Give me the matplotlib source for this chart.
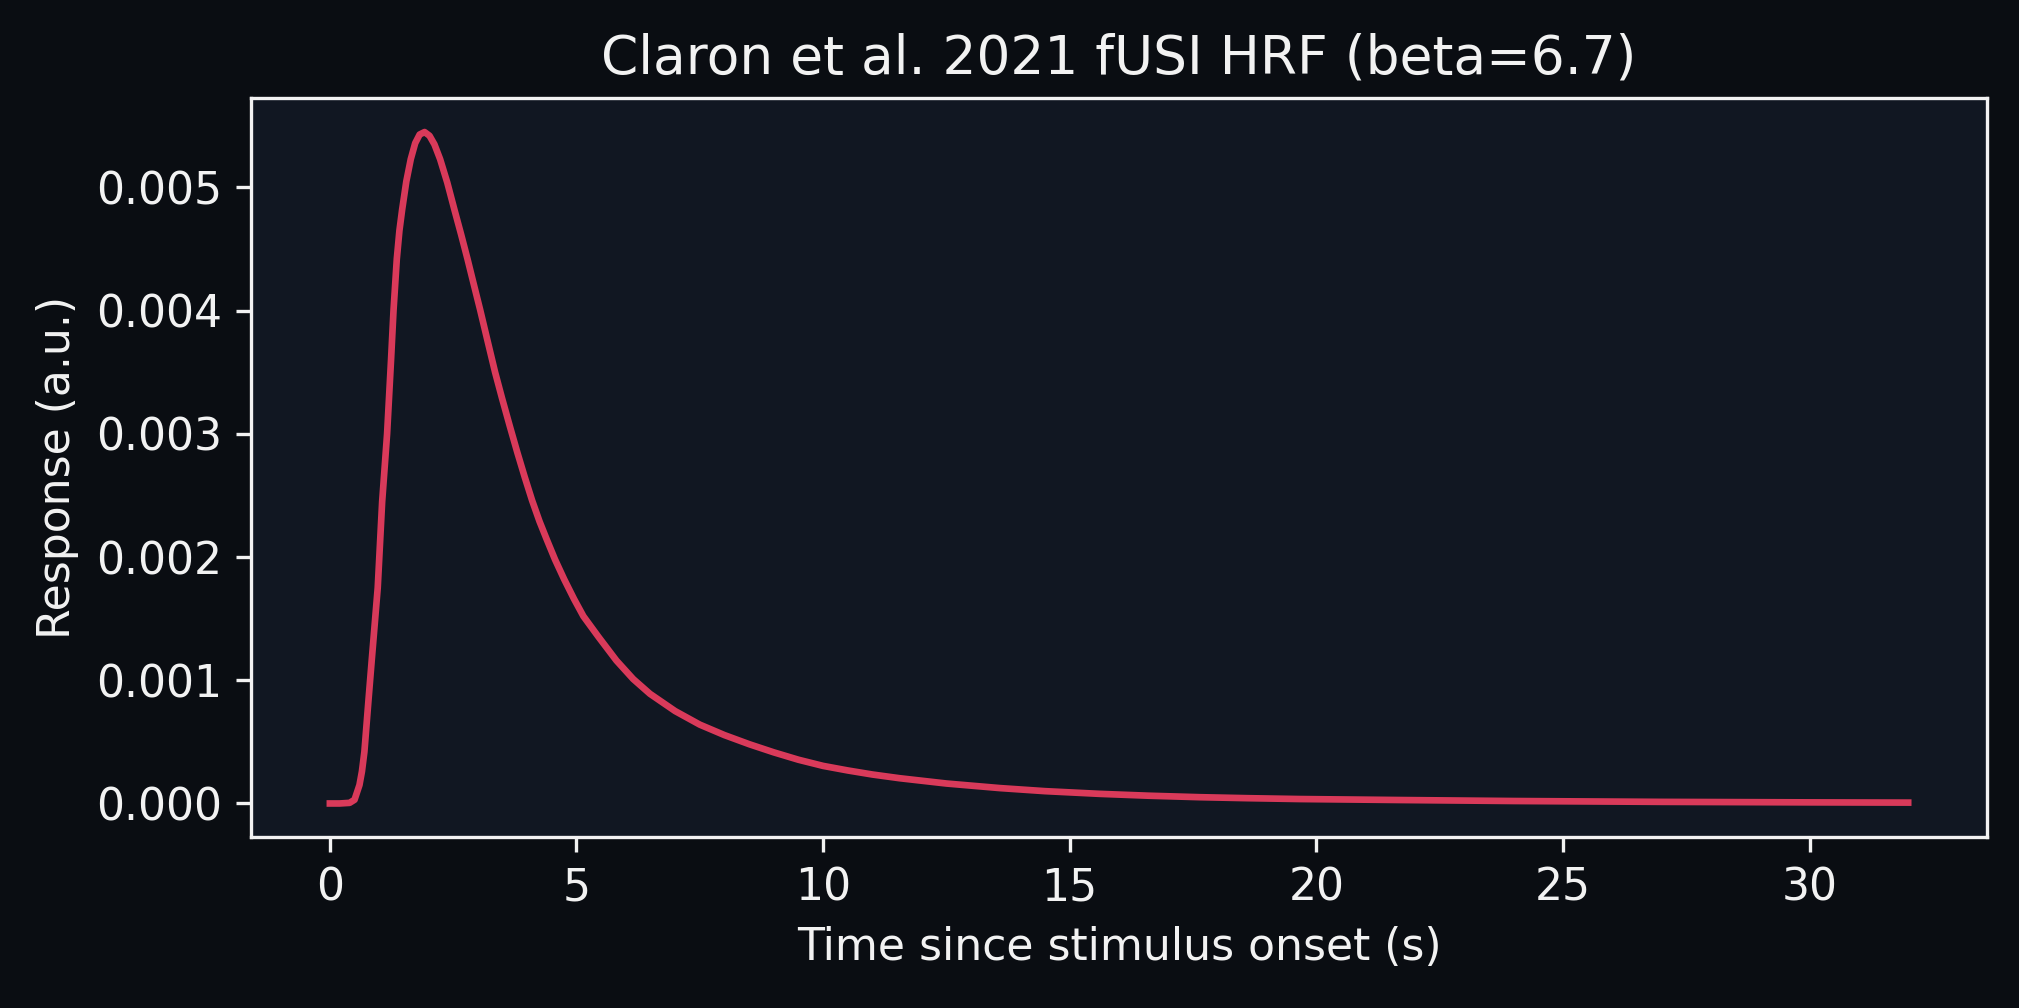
import numpy as np
import matplotlib
matplotlib.use('Agg')
import matplotlib.pyplot as plt

# values (time in s, response in 1e-3 a.u.)
t_sec = [0, 0.2, 0.4, 0.5, 0.6, 0.65, 0.7, 0.785, 0.85, 0.97, 1.06, 1.16, 1.24, 1.29,
         1.357, 1.41, 1.465, 1.55, 1.64, 1.73, 1.82, 1.92, 2.02, 2.12, 2.235, 2.38,
         2.525, 2.66, 2.79, 2.92, 3.045, 3.2, 3.35, 3.49, 3.65, 3.8, 3.95, 4.1, 4.25,
         4.4, 4.565, 4.75, 4.95, 5.14, 5.45, 5.81, 6.15, 6.49, 7.0, 7.5, 8.0, 8.51,
         9.0, 9.5, 10.0, 10.5, 11.0, 11.55, 12.5, 13.58, 14.5, 15.61, 16.6, 17.63,
         18.6, 19.66, 21.7, 24, 27, 30, 32]
resp_e3 = [0, 0, 0.005, 0.03, 0.15, 0.26, 0.42, 0.85, 1.17, 1.75, 2.45, 3.0, 3.6, 4.0,
           4.42, 4.65, 4.82, 5.05, 5.23, 5.36, 5.43, 5.45, 5.42, 5.35, 5.23, 5.04,
           4.82, 4.62, 4.42, 4.21, 4.01, 3.75, 3.50, 3.29, 3.06, 2.85, 2.65, 2.46, 2.29,
           2.14, 1.98, 1.82, 1.66, 1.52, 1.35, 1.16, 1.01, 0.89, 0.75, 0.64, 0.555, 0.48,
           0.415, 0.355, 0.305, 0.268, 0.235, 0.205, 0.162, 0.125, 0.10, 0.078, 0.063,
           0.051, 0.043, 0.036, 0.028, 0.020, 0.013, 0.009, 0.007]

title = 'Claron et al. 2021 fUSI HRF (beta=6.7)'
xlabel = 'Time since stimulus onset (s)'
ylabel = 'Response (a.u.)'

fig_bg = '#0a0d12'
ax_bg = '#111722'
line_col = '#d93a5a'
fg = '#f2f2f2'

resp = np.array(resp_e3) * 1e-3

fig = plt.figure(figsize=(2019 / 300, 1008 / 300), dpi=300, facecolor=fig_bg)
ax = fig.add_axes([0.1243, 0.1696, 0.9842 - 0.1243, 0.9023 - 0.1696])
ax.set_facecolor(ax_bg)

ax.plot(t_sec, resp, color=line_col, lw=1.6, solid_joinstyle='round')

ax.set_title(title, color=fg, fontsize=12.8)
ax.set_xlabel(xlabel, color=fg, fontsize=10.6)
ax.set_ylabel(ylabel, color=fg, fontsize=10.6)
ax.tick_params(colors=fg, labelsize=10.6)
for s in ax.spines.values():
    s.set_color(fg)

fig.savefig('out.png', dpi=300, facecolor=fig_bg)
